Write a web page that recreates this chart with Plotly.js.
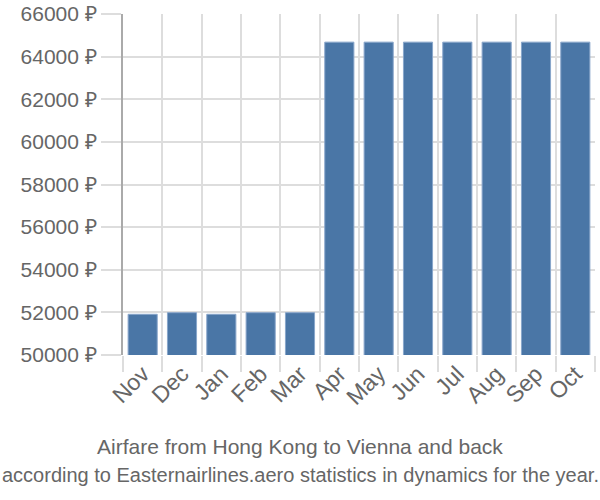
<!DOCTYPE html>
<html><head><meta charset="utf-8">
<script src="https://cdn.plot.ly/plotly-3.0.1.min.js"></script>
<style>body{margin:0;padding:0;background:#fff}#chart{width:600px;height:500px}</style>
</head><body><div id="chart"></div>
<script>
var months = ["Nov","Dec","Jan","Feb","Mar","Apr","May","Jun","Jul","Aug","Sep","Oct"];
var prices = [51910, 51985, 51910, 51985, 51985, 64680, 64680, 64680, 64680, 64680, 64680, 64680];
var yTicks = [50000,52000,54000,56000,58000,60000,62000,64000,66000];
var yTickText = yTicks.map(function(v){return v + " \u20BD";});
var titleLine1 = "Airfare from Hong Kong to Vienna and back";
var titleLine2 = "according to Easternairlines.aero statistics in dynamics for the year.";

var L = 123, R = 5, W = 600;
var centerX = (300 - L) / (W - L - R);
var trace = {
  type: "bar", x: months, y: prices,
  marker: {color: "#4a76a6", line: {color: "#89a6cb", width: 1}},
  hoverinfo: "none"
};
var layout = {
  width: 600, height: 500,
  margin: {l: L, r: R, t: 14, b: 145},
  paper_bgcolor: "#fff", plot_bgcolor: "#fff",
  bargap: 0.26,
  font: {family: "Liberation Sans, Arial, sans-serif", color: "#666"},
  xaxis: {
    type: "category", tickson: "boundaries", ticks: "outside", ticklen: 16,
    tickcolor: "#ddd", tickwidth: 2, showgrid: true, gridcolor: "#ddd", gridwidth: 2,
    tickangle: -45, tickfont: {size: 23, color: "#666"}, zeroline: false, showline: false
  },
  yaxis: {
    range: [50000, 66000], tickvals: yTicks, ticktext: yTickText,
    ticks: "outside", ticklen: 20, tickcolor: "#ddd", tickwidth: 2,
    showgrid: true, gridcolor: "#ddd", gridwidth: 2, zeroline: false,
    showline: true, linecolor: "#aaa", linewidth: 2,
    tickfont: {size: 21, color: "#666"}
  },
  showlegend: false,
  annotations: [
    {text: titleLine1, xref: "paper", yref: "paper", x: centerX, y: -0.267, xanchor: "center", yanchor: "middle",
     showarrow: false, font: {size: 21, color: "#666"}},
    {text: titleLine2, xref: "paper", yref: "paper", x: centerX, y: -0.352, xanchor: "center", yanchor: "middle",
     showarrow: false, font: {size: 20, color: "#666"}}
  ]
};
Plotly.newPlot("chart", [trace], layout, {displayModeBar: false, staticPlot: true});
</script></body></html>
